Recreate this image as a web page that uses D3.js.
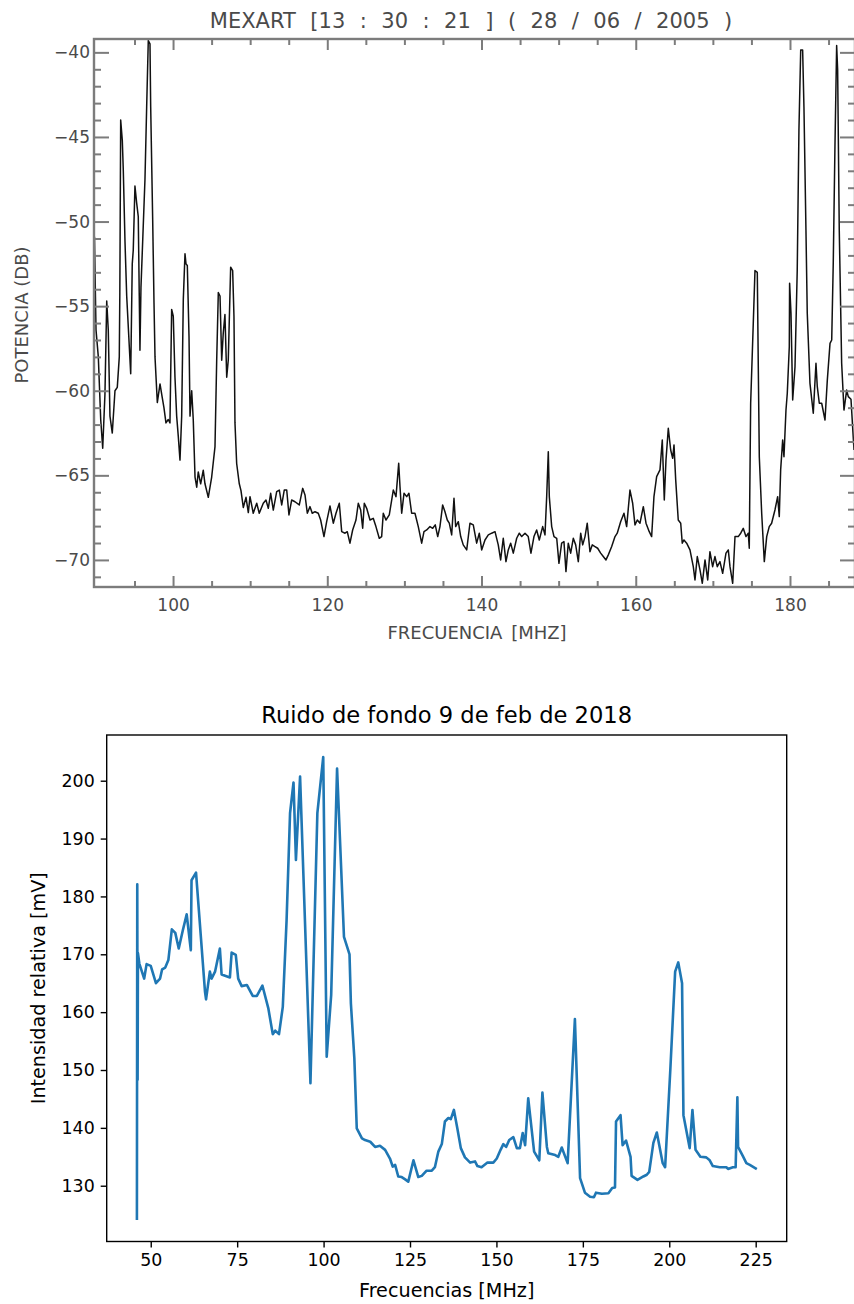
<!DOCTYPE html>
<html>
<head>
<meta charset="utf-8">
<script src="https://cdn.jsdelivr.net/npm/d3@7/dist/d3.min.js"></script>
<style>
  body { margin: 0; background: #fff; }
  svg { display: block; }
</style>
</head>
<body>
<svg id="chart"></svg>
<script>
var width = 854;
var height = 1304;

// ---- top panel: MEXART spectrum (frequency MHz, power dB) ----
var topFreq = [
  89.81, 90.01, 90.31, 90.62, 90.88, 91.17, 91.40, 91.60, 91.82, 92.12,
  92.47, 92.77, 93.03, 93.10, 93.21, 93.42, 93.55, 93.77, 93.99, 94.51,
  94.71, 94.84, 95.06, 95.28, 95.49, 95.62, 95.71, 95.84, 96.36, 96.58,
  96.79, 97.01, 97.10, 97.36, 97.53, 97.66, 97.96, 98.31, 98.60, 98.82,
  99.08, 99.38, 99.60, 99.82, 100.03, 100.25, 100.47, 100.68, 100.90, 101.12,
  101.33, 101.55, 101.68, 101.85, 102.07, 102.20, 102.42, 102.62, 102.85, 103.07,
  103.27, 103.58, 103.92, 104.14, 104.57, 105.01, 105.44, 105.66, 105.87, 106.09,
  106.31, 106.51, 106.73, 106.96, 107.16, 107.47, 107.73, 107.90, 108.03, 108.25,
  108.59, 108.81, 109.11, 109.46, 109.76,
  109.98, 110.40, 110.85, 111.18, 111.70, 112.05, 112.35, 112.66, 113.00, 113.44,
  113.78, 114.09, 114.42, 114.74, 115.03, 115.38, 115.81, 116.37, 116.81, 117.11,
  117.41, 117.76, 118.05, 118.41, 118.83, 119.14, 119.57, 119.92, 120.35, 120.78,
  121.13, 121.56, 121.87, 122.30, 122.59, 122.94, 123.29, 123.72, 124.02, 124.33,
  124.59, 124.80, 125.11, 125.54, 125.96, 126.31, 126.74, 127.05, 127.26, 127.61,
  128.04, 128.35, 128.56, 128.91, 129.26, 129.43, 129.65, 129.95, 130.30, 130.59,
  130.94, 131.37, 131.80, 132.24, 132.54, 132.89, 133.32, 133.67, 134.00, 134.32,
  134.61, 134.96, 135.26, 135.56, 135.82, 136.13, 136.43, 136.65, 136.99, 137.30,
  137.63, 138.08, 138.50, 138.93, 139.37, 139.71, 140.02, 140.45, 140.88, 141.32,
  141.75, 142.17, 142.48, 142.82, 143.17, 143.47, 143.78, 144.12, 144.56, 144.90,
  145.21, 145.64, 146.06, 146.41, 146.80, 147.15, 147.49, 147.93, 148.23, 148.45,
  148.66, 148.79, 149.10, 149.40, 149.75, 150.04, 150.39, 150.69, 150.95, 151.25,
  151.56, 151.90, 152.21, 152.55, 152.86, 153.12, 153.42, 153.71, 154.06, 154.36,
  154.71, 155.06, 155.45, 155.79, 156.14, 156.44, 156.88, 157.31, 157.60, 158.04,
  158.47, 158.82, 159.25, 159.60, 159.90, 160.20, 160.55, 160.98, 161.33, 161.75,
  162.06, 162.36, 162.71, 163.14, 163.44, 163.70, 163.92, 164.22, 164.53, 164.79,
  164.96, 165.18, 165.51, 165.83, 166.03, 166.25, 166.60, 167.03, 167.46, 167.68,
  167.98, 168.33, 168.63, 168.98, 169.33, 169.62, 169.97, 170.27, 170.57, 170.92,
  171.27, 171.70, 172.00, 172.22, 172.57, 172.87, 173.29, 173.61, 173.94, 174.29,
  174.59, 174.72, 174.90, 175.24, 175.46, 175.76, 175.89, 176.02, 176.33, 176.67,
  176.98, 177.31, 177.62, 178.05, 178.40, 178.61, 178.79, 179.05, 179.22, 179.48,
  179.65, 179.91, 179.95, 180.13, 180.35, 180.65, 180.94, 181.16, 181.39, 181.64,
  181.81, 182.07, 182.24, 182.59, 183.02, 183.37, 183.54, 183.80, 184.11, 184.54,
  184.84, 185.19, 185.41, 185.61, 185.83, 186.05, 186.18, 186.39, 186.70, 187.00,
  187.35, 187.56, 187.91, 188.30
];
var topPower = [
  -50.9, -56.4, -58.0, -61.7, -63.4, -60.2, -54.7, -56.4, -61.5, -62.5,
  -60.0, -59.8, -58.0, -54.2, -44.0, -45.2, -47.0, -51.2, -54.4, -59.0,
  -52.5, -51.7, -47.9, -48.9, -49.7, -54.4, -57.6, -53.9, -47.5, -43.2,
  -39.3, -39.5, -43.2, -49.9, -54.8, -58.0, -60.7, -59.6, -60.4, -61.0,
  -61.9, -61.7, -61.9, -55.2, -55.6, -59.2, -61.5, -62.7, -64.1, -61.5,
  -54.6, -51.9, -52.5, -52.6, -56.8, -61.5, -60.0, -61.7, -65.1, -65.7,
  -64.8, -65.5, -64.7, -65.5, -66.3, -65.1, -63.3, -58.2, -54.2, -54.4,
  -58.2, -56.6, -55.5, -59.2, -58.2, -52.7, -52.9, -55.6, -61.9, -64.3,
  -65.5, -65.9, -66.9, -66.3, -67.2,
  -66.26, -67.24, -66.65, -67.24, -66.65, -66.46, -66.95, -66.06, -67.05, -65.96,
  -65.87, -66.75, -65.87, -65.87, -67.34, -66.46, -66.56, -66.75, -65.77, -66.16,
  -67.24, -66.85, -67.24, -67.15, -67.24, -67.64, -68.62, -67.74, -66.81, -67.83,
  -67.24, -66.65, -68.33, -68.42, -68.33, -69.01, -68.23, -67.64, -66.65, -67.05,
  -68.13, -66.65, -66.95, -67.64, -67.54, -68.03, -68.72, -68.62, -67.24, -67.64,
  -67.34, -66.46, -65.87, -66.26, -64.29, -65.67, -67.24, -66.06, -66.26, -66.06,
  -67.24, -67.24, -68.03, -69.01, -68.33, -68.23, -68.03, -68.13, -67.93, -68.62,
  -68.03, -66.75, -67.15, -67.64, -67.83, -68.52, -66.36, -68.03, -67.74, -68.62,
  -69.11, -69.41, -67.83, -67.93, -69.01, -68.42, -69.41, -68.82, -68.52, -68.42,
  -68.33, -69.11, -70.00, -68.72, -70.10, -69.41, -69.01, -69.60, -68.72, -68.42,
  -68.62, -68.42, -68.62, -69.60, -68.62, -68.23, -68.82, -68.03, -68.52, -66.26,
  -63.60, -66.26, -68.03, -68.62, -68.72, -70.20, -69.01, -68.92, -70.69, -69.01,
  -69.60, -68.72, -69.11, -70.10, -68.42, -69.11, -68.62, -67.83, -69.51, -69.11,
  -69.21, -69.31, -69.60, -69.80, -70.00, -69.70, -69.21, -68.62, -68.42, -67.74,
  -67.24, -68.03, -65.87, -66.65, -67.93, -67.64, -67.83, -66.85, -67.83, -68.33,
  -68.62, -66.26, -65.08, -64.68, -62.91, -66.46, -64.09, -62.22, -63.50, -63.99,
  -63.20, -65.27, -67.64, -67.83, -69.01, -68.82, -69.01, -69.41, -70.40, -71.18,
  -69.80, -70.59, -71.38, -70.00, -71.18, -69.51, -70.40, -69.80, -70.40, -70.10,
  -70.79, -69.60, -69.41, -70.40, -71.38, -68.62, -68.62, -68.42, -68.13, -68.62,
  -68.42, -69.31, -60.74, -56.0, -52.9, -53.0, -58.6, -63.9, -67.24, -70.10,
  -68.62, -68.03, -67.83, -67.05, -66.26, -67.44, -64.68, -62.91, -63.90, -61.14,
  -60.15, -57.40, -53.65, -55.42, -60.55, -58.58, -52.86, -44.59, -39.86, -39.86,
  -43.21, -50.50, -55.42, -59.56, -61.33, -58.38, -59.76, -60.74, -60.74, -61.73,
  -59.37, -57.20, -57.00, -52.47, -45.58, -39.6, -41.05, -50.50, -58.38, -61.14,
  -59.96, -60.35, -60.50, -63.50
];
var topXTicks = [100, 120, 140, 160, 180];
var topXMinor = [95, 105, 110, 115, 125, 130, 135, 145, 150, 155, 165, 170, 175, 185];
var topYTicks = [-70, -65, -60, -55, -50, -45, -40];
var topYMinor = [-71, -69, -68, -67, -66, -64, -63, -62, -61, -59, -58, -57, -56,
                 -54, -53, -52, -51, -49, -48, -47, -46, -44, -43, -42, -41];

// ---- bottom panel: background noise (frequency MHz, intensity mV) ----
var botFreq = [
  46.0, 46.1, 46.2, 46.3, 46.7, 48.1, 48.8, 50.0, 51.5, 52.7,
  53.3, 54.2, 55.1, 56.1, 57.1, 58.1, 59.3, 60.4, 61.6, 61.8,
  63.1, 65.7, 66.0, 67.1, 67.6, 68.6, 70.0, 70.5, 72.9, 73.4,
  74.6, 75.3, 76.3, 77.8, 79.5, 80.7, 82.3, 84.0, 85.3, 86.0,
  87.1, 88.2, 89.3, 90.3, 91.3, 92.0, 93.2, 96.2, 98.2, 99.9,
  100.9, 102.2, 103.9, 105.9, 107.5, 107.9, 108.9, 109.6, 111.1, 112.0,
  113.5, 114.9, 116.3, 117.8, 119.2, 120.0, 120.7, 121.6, 122.6, 123.6,
  124.5, 126.0, 127.4, 128.4, 129.8, 131.3, 132.2, 133.2, 134.2, 135.1,
  136.1, 136.8, 137.7, 138.7, 139.7, 140.9, 142.4, 143.8, 144.5, 145.7,
  147.4, 149.1, 150.1, 151.2, 152.0, 152.8, 153.7, 154.9, 155.9, 156.8,
  157.6, 158.3, 159.2, 160.9, 162.4, 163.3, 164.6, 165.0, 167.0, 167.9,
  168.9, 170.6, 172.7, 174.2, 175.6, 177.1, 178.2, 178.8, 180.5, 182.4,
  183.5, 184.3, 184.6, 185.9, 186.5, 187.5, 188.8, 189.1, 190.8, 192.5,
  193.5, 194.2, 195.4, 196.4, 198.1, 198.8, 200.3, 201.7, 202.6, 203.7,
  204.1, 205.9, 206.7, 207.6, 209.0, 210.7, 211.7, 212.6, 214.6, 216.5,
  217.0, 218.4, 219.2, 219.7, 219.9, 221.3, 222.3, 223.3, 225.0
];
var botValue = [
  124.3, 182.1, 148.3, 170.2, 168.4, 165.8, 168.3, 168.0, 165.0, 165.8,
  167.4, 167.7, 169.0, 174.3, 173.7, 171.0, 174.2, 176.9, 170.7, 182.8,
  184.1, 163.5, 162.2, 167.0, 165.8, 167.0, 171.0, 166.5, 166.0, 170.3,
  169.9, 165.8, 164.5, 164.7, 162.8, 162.8, 164.6, 160.7, 156.2, 156.8,
  156.2, 160.9, 175.9, 194.4, 199.7, 186.3, 200.7, 147.7, 194.4, 204.1,
  152.3, 163.0, 202.1, 173.0, 170.0, 161.5, 152.0, 139.9, 138.2, 137.9,
  137.6, 136.7, 136.9, 136.2, 134.7, 133.3, 133.6, 131.6, 131.5, 131.1,
  130.7, 134.4, 131.5, 131.7, 132.6, 132.6, 133.2, 135.9, 137.2, 141.1,
  141.7, 141.5, 143.1, 139.9, 136.5, 134.9, 134.0, 134.2, 133.4, 133.2,
  134.0, 134.0, 134.7, 136.2, 137.2, 136.7, 137.9, 138.4, 136.5, 136.5,
  139.1, 137.0, 145.1, 135.9, 134.4, 146.1, 136.7, 135.6, 135.3, 135.0,
  136.6, 133.9, 158.8, 131.3, 128.8, 128.1, 128.0, 128.8, 128.6, 128.7,
  129.6, 129.7, 141.1, 142.2, 137.0, 137.8, 135.0, 131.7, 131.0, 131.6,
  131.9, 132.4, 137.4, 139.2, 133.9, 133.2, 150.0, 167.0, 168.6, 165.0,
  142.2, 136.5, 143.1, 136.2, 135.0, 134.9, 134.4, 133.4, 133.2, 133.2,
  132.9, 133.2, 133.2, 145.3, 136.7, 135.1, 133.9, 133.6, 133.0
];
var botXTicks = [50, 75, 100, 125, 150, 175, 200, 225];
var botYTicks = [130, 140, 150, 160, 170, 180, 190, 200];

var svg = d3.select("#chart").attr("width", width).attr("height", height);

// ================= top panel (IDL style) =================
var idlFont = "'DejaVu Sans', sans-serif";
var idlGray = "#7c7c7c";
var idlText = "#4a4a4a";

var topMargin = {left: 94, right: 855, top: 39, bottom: 587};

var topX = d3.scaleLinear().domain([89.75, 188.43]).range([topMargin.left, topMargin.right]);
var topY = d3.scaleLinear().domain([-71.6, -39.21]).range([topMargin.bottom, topMargin.top]);

var gTop = svg.append("g");

svg.append("defs").append("clipPath").attr("id", "clipTop")
  .append("rect")
  .attr("x", topMargin.left).attr("y", topMargin.top)
  .attr("width", topMargin.right - topMargin.left)
  .attr("height", topMargin.bottom - topMargin.top);

var topData = topFreq.map(function(f, i) { return {x: f, y: topPower[i]}; });

var topLine = d3.line()
  .x(function(d) { return topX(d.x); })
  .y(function(d) { return topY(d.y); });

gTop.append("path")
  .datum(topData)
  .attr("clip-path", "url(#clipTop)")
  .attr("fill", "none")
  .attr("stroke", "#111")
  .attr("stroke-width", 1.5)
  .attr("stroke-linejoin", "round")
  .attr("d", topLine);

function idlAxis(g) {
  g.select(".domain").remove();
  g.selectAll(".tick line").attr("stroke", idlGray).attr("stroke-width", 2);
  g.selectAll(".tick text").attr("fill", idlText)
    .style("font-family", idlFont).style("font-size", "17px");
}

// bottom axis, labels + major ticks
gTop.append("g")
  .attr("transform", `translate(0,${topMargin.bottom})`)
  .call(d3.axisBottom(topX).tickValues(topXTicks).tickSize(-11).tickSizeOuter(0).tickPadding(12)
        .tickFormat(d3.format("d")))
  .call(idlAxis);
gTop.append("g")
  .attr("transform", `translate(0,${topMargin.bottom})`)
  .call(d3.axisBottom(topX).tickValues(topXMinor).tickSize(-6).tickSizeOuter(0).tickFormat(""))
  .call(idlAxis);
// top axis
gTop.append("g")
  .attr("transform", `translate(0,${topMargin.top})`)
  .call(d3.axisTop(topX).tickValues(topXTicks).tickSize(-11).tickSizeOuter(0).tickFormat(""))
  .call(idlAxis);
gTop.append("g")
  .attr("transform", `translate(0,${topMargin.top})`)
  .call(d3.axisTop(topX).tickValues(topXMinor).tickSize(-6).tickSizeOuter(0).tickFormat(""))
  .call(idlAxis);
// left axis
gTop.append("g")
  .attr("transform", `translate(${topMargin.left},0)`)
  .call(d3.axisLeft(topY).tickValues(topYTicks).tickSize(-15).tickSizeOuter(0).tickPadding(4)
        .tickFormat(d3.format("d")))
  .call(idlAxis);
gTop.append("g")
  .attr("transform", `translate(${topMargin.left},0)`)
  .call(d3.axisLeft(topY).tickValues(topYMinor).tickSize(-7).tickSizeOuter(0).tickFormat(""))
  .call(idlAxis);
// right axis
gTop.append("g")
  .attr("transform", `translate(${topMargin.right},0)`)
  .call(d3.axisRight(topY).tickValues(topYTicks).tickSize(-15).tickSizeOuter(0).tickFormat(""))
  .call(idlAxis);
gTop.append("g")
  .attr("transform", `translate(${topMargin.right},0)`)
  .call(d3.axisRight(topY).tickValues(topYMinor).tickSize(-7).tickSizeOuter(0).tickFormat(""))
  .call(idlAxis);

gTop.append("rect")
  .attr("x", topMargin.left).attr("y", topMargin.top)
  .attr("width", topMargin.right - topMargin.left)
  .attr("height", topMargin.bottom - topMargin.top)
  .attr("fill", "none")
  .attr("stroke", idlGray)
  .attr("stroke-width", 2.4);

gTop.append("text")
  .attr("x", 471).attr("y", 28)
  .attr("text-anchor", "middle")
  .attr("fill", idlText)
  .style("font-family", idlFont).style("font-size", "21px")
  .style("word-spacing", "7.8px")
  .text("MEXART [13 : 30 : 21 ] ( 28 / 06 / 2005 )");

gTop.append("text")
  .attr("x", 477).attr("y", 639)
  .attr("text-anchor", "middle")
  .attr("fill", idlText)
  .style("font-family", idlFont).style("font-size", "18px")
  .style("word-spacing", "3px")
  .text("FRECUENCIA [MHZ]");

gTop.append("text")
  .attr("transform", "translate(28,315) rotate(-90)")
  .attr("text-anchor", "middle")
  .attr("fill", idlText)
  .style("font-family", idlFont).style("font-size", "18px")
  .text("POTENCIA (DB)");

// ================= bottom panel (matplotlib style) =================
var mplFont = "'DejaVu Sans', sans-serif";
var botMargin = {left: 106.7, right: 786.7, top: 735, bottom: 1241.5};

var botX = d3.scaleLinear().domain([37.26, 233.97]).range([botMargin.left, botMargin.right]);
var botY = d3.scaleLinear().domain([120.36, 207.9]).range([botMargin.bottom, botMargin.top]);

var gBot = svg.append("g");

var botData = botFreq.map(function(f, i) { return {x: f, y: botValue[i]}; });

gBot.append("path")
  .datum(botData)
  .attr("fill", "none")
  .attr("stroke", "#1f77b4")
  .attr("stroke-width", 2.6)
  .attr("stroke-linejoin", "round")
  .attr("stroke-linecap", "square")
  .attr("d", d3.line()
    .x(function(d) { return botX(d.x); })
    .y(function(d) { return botY(d.y); }));

function mplAxis(g) {
  g.select(".domain").remove();
  g.selectAll(".tick line").attr("stroke", "#000").attr("stroke-width", 1.4);
  g.selectAll(".tick text").attr("fill", "#000")
    .style("font-family", mplFont).style("font-size", "17.4px");
}

gBot.append("g")
  .attr("transform", `translate(0,${botMargin.bottom})`)
  .call(d3.axisBottom(botX).tickValues(botXTicks).tickSize(6).tickPadding(6).tickFormat(d3.format("d")))
  .call(mplAxis);

gBot.append("g")
  .attr("transform", `translate(${botMargin.left},0)`)
  .call(d3.axisLeft(botY).tickValues(botYTicks).tickSize(6).tickPadding(6).tickFormat(d3.format("d")))
  .call(mplAxis);

gBot.append("rect")
  .attr("x", botMargin.left).attr("y", botMargin.top)
  .attr("width", botMargin.right - botMargin.left)
  .attr("height", botMargin.bottom - botMargin.top)
  .attr("fill", "none")
  .attr("stroke", "#000")
  .attr("stroke-width", 1.4);

gBot.append("text")
  .attr("x", (botMargin.left + botMargin.right) / 2).attr("y", 723)
  .attr("text-anchor", "middle")
  .style("font-family", mplFont).style("font-size", "22.6px")
  .text("Ruido de fondo 9 de feb de 2018");

gBot.append("text")
  .attr("x", (botMargin.left + botMargin.right) / 2).attr("y", 1297)
  .attr("text-anchor", "middle")
  .style("font-family", mplFont).style("font-size", "19.2px")
  .text("Frecuencias [MHz]");

gBot.append("text")
  .attr("transform", `translate(45,${(botMargin.top + botMargin.bottom) / 2}) rotate(-90)`)
  .attr("text-anchor", "middle")
  .style("font-family", mplFont).style("font-size", "19.2px")
  .text("Intensidad relativa [mV]");
</script>
</body>
</html>
